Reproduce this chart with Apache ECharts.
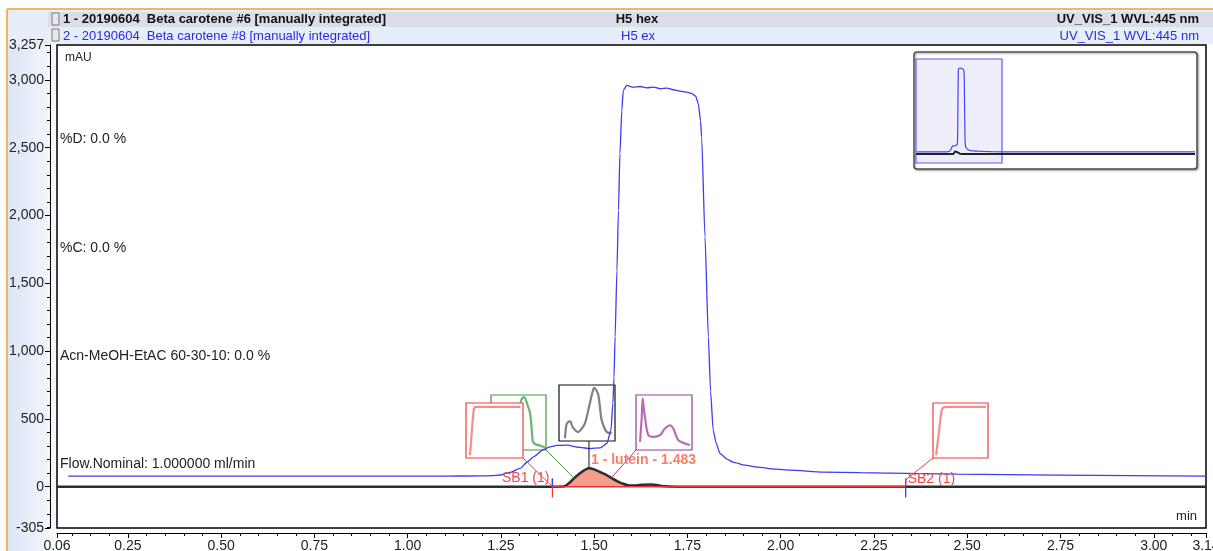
<!DOCTYPE html>
<html>
<head>
<meta charset="utf-8">
<title>Beta carotene chromatogram</title>
<script src="https://cdn.jsdelivr.net/npm/echarts@6.0.0/dist/echarts.min.js"></script>
<style>
html, body { margin: 0; padding: 0; background: #fff; }
#chart { width: 1213px; height: 551px; }
</style>
</head>
<body>
<div id="chart"></div>
<script>
// visible window of the chromatogram
var viewTime = [0.06, 3.14];      // min
var viewSignal = [-305, 3257];    // mAU
var overviewTime = [0.06, 10.05];
var timeLabels = [0.06, 0.25, 0.50, 0.75, 1.00, 1.25, 1.50, 1.75, 2.00, 2.25, 2.50, 2.75, 3.00, 3.14];
var signalLabels = [-305, 0, 500, 1000, 1500, 2000, 2500, 3000, 3257];

// 2 - Beta carotene #8 (H5 ex), blue
var blueTrace = [
    [0.09,77],[0.40,77],[0.80,77],[1.10,78],[1.20,79],[1.225,81],[1.248,86],[1.275,105],[1.301,134],
    [1.320,180],[1.337,220],[1.364,274],[1.382,293],[1.400,304],[1.427,306],[1.462,289],[1.489,281],
    [1.516,286],[1.534,318],[1.545,416],[1.550,613],[1.553,800],[1.556,1104],[1.561,1595],[1.565,2037],
    [1.569,2455],[1.574,2774],[1.578,2922],[1.587,2959],[1.605,2946],[1.623,2951],[1.641,2941],
    [1.659,2946],[1.677,2934],[1.695,2939],[1.712,2927],[1.730,2917],[1.748,2909],[1.762,2898],
    [1.772,2880],[1.779,2824],[1.785,2700],[1.788,2577],[1.797,1841],[1.806,1104],[1.812,700],
    [1.819,416],[1.827,320],[1.837,245],[1.856,203],[1.872,181],[1.904,158],[1.937,144],[1.985,129],
    [2.025,122],[2.114,107],[2.213,103],[2.293,99],[2.473,92],[2.741,85],[2.937,81],[3.14,78]
];
// 1 - Beta carotene #6 (H5 hex), black
var blackTrace = [
    [0.06,0],[1.40,0],[1.418,1],[1.432,25],[1.446,62],[1.460,95],[1.474,122],[1.486,135],[1.500,127],
    [1.516,108],[1.530,90],[1.546,64],[1.560,42],[1.573,26],[1.590,11],[1.610,9],[1.630,14],
    [1.653,16],[1.668,12],[1.680,5],[1.720,0],[3.14,0]
];
var overviewTail = [10.05, 77];

// integration
var sbTimes = [1.388, 2.335];
var peakTime = 1.486;
var peakHeight = 135;
var peakLabel = '1 - lutein - 1.483';
var spectrumTimes = [[1.446, 62], [1.546, 64]];   // green, purple

// UV spectra (nm, % of box)
var sb1Spectrum = [[228,5],[240,45],[256,90],[270,93],[300,93],[400,93],[500,93],[582,93]];
var greenSpectrum = [[210,12],[260,25],[320,35],[380,55],[410,80],[424,93],[440,96],[452,92],[468,80],
    [484,67],[496,38],[504,16],[520,11],[556,8],[592,5]];
var blackSpectrum = [[243,5],[252,28],[262,33],[279,35],[300,24],[338,16],[362,22],[386,32],[421,68],
    [440,88],[452,95],[466,91],[481,82],[495,55],[505,37],[541,16],[576,14]];
var purpleSpectrum = [[229,15],[241,60],[248,94],[256,75],[264,60],[288,27],[324,24],[371,27],[407,39],
    [443,45],[466,39],[502,18],[550,12],[586,9]];
var sb2Spectrum = [[222,5],[240,40],[262,85],[272,91],[300,93],[400,93],[500,93],[586,93]];

var FONT = '"Liberation Sans", Arial, sans-serif';
var chart = echarts.init(document.getElementById('chart'));

// minor ticks
var timeMinor = [];
for (var i = 2; i <= 62; i++) {
    var t = Math.round(i * 5) / 100;
    if (i % 5 !== 0 && t > viewTime[0]) timeMinor.push(t);
}
var signalMinor = [];
for (var v = -300; v <= 3200; v += 100) {
    if (v % 500 !== 0) signalMinor.push(v);
}

function thousands(v) {
    return String(v).replace(/\B(?=(\d{3})+(?!\d))/g, ',');
}

function box(left, top, width, height, color, extra) {
    var gr = { left: left, top: top, width: width, height: height, show: true, borderColor: color,
               borderWidth: 1.2, outerBoundsMode: 'none', containLabel: false };
    for (var k in extra || {}) gr[k] = extra[k];
    return gr;
}

var grids = [
    box(57, 45, 1149, 483, '#000', { borderWidth: 1.5, backgroundColor: 'transparent' }),
    box(491, 395, 55, 55, '#3c9a3c'),
    box(466, 403, 57, 55, '#f03a3a', { backgroundColor: '#fff', z: 5 }),
    box(559, 385, 56, 56, '#111'),
    box(636, 395, 56, 55, '#9a3a9a'),
    box(933, 403, 55, 55, '#f03a3a'),
    box(916, 59, 279, 104, '#000', { show: false })
];

var xAxes = [
    { type: 'value', gridIndex: 0, position: 'bottom', offset: 5, min: viewTime[0], max: viewTime[1],
      axisLine: { show: true, onZero: false, lineStyle: { color: '#000', width: 1 } },
      axisTick: { show: true, customValues: timeLabels, length: 5, lineStyle: { color: '#000' } },
      axisLabel: { show: true, customValues: timeLabels, margin: 6, fontFamily: FONT, fontSize: 14, color: '#222',
                   formatter: function (v) { return v.toFixed(2); } },
      splitLine: { show: false } },
    { type: 'value', gridIndex: 0, position: 'bottom', offset: 5, min: viewTime[0], max: viewTime[1],
      axisLine: { show: false, onZero: false },
      axisTick: { show: true, customValues: timeMinor, length: 3, lineStyle: { color: '#000' } },
      axisLabel: { show: false }, splitLine: { show: false } }
];
var yAxes = [
    { type: 'value', gridIndex: 0, position: 'left', offset: 7, min: viewSignal[0], max: viewSignal[1],
      axisLine: { show: true, onZero: false, lineStyle: { color: '#000', width: 1 } },
      axisTick: { show: true, customValues: signalLabels, length: 5, lineStyle: { color: '#000' } },
      axisLabel: { show: true, customValues: signalLabels, margin: 6, fontFamily: FONT, fontSize: 14, color: '#222',
                   formatter: thousands },
      splitLine: { show: false } },
    { type: 'value', gridIndex: 0, position: 'left', offset: 7, min: viewSignal[0], max: viewSignal[1],
      axisLine: { show: false, onZero: false },
      axisTick: { show: true, customValues: signalMinor, length: 3, lineStyle: { color: '#000' } },
      axisLabel: { show: false }, splitLine: { show: false } }
];
for (var g = 1; g <= 5; g++) {
    xAxes.push({ type: 'value', gridIndex: g, min: 200, max: 600, show: false });
    yAxes.push({ type: 'value', gridIndex: g, min: 0, max: 100, show: false });
}
xAxes.push({ type: 'value', gridIndex: 6, min: overviewTime[0], max: overviewTime[1], show: false });
yAxes.push({ type: 'value', gridIndex: 6, min: viewSignal[0], max: viewSignal[1], show: false });

var peakArea = [[sbTimes[0], 0]].concat(blackTrace.filter(function (p) {
    return p[0] > sbTimes[0] && p[0] < sbTimes[1];
})).concat([[sbTimes[1], 0]]);

function tick(t, lo, hi, color, z) {
    return { type: 'line', xAxisIndex: 0, yAxisIndex: 0, data: [[t, lo], [t, hi]], showSymbol: false,
             silent: true, z: z, lineStyle: { color: color, width: 1.3 } };
}
function spectrum(idx, data, color, z) {
    return { type: 'line', xAxisIndex: idx, yAxisIndex: idx, data: data, showSymbol: false, silent: true,
             smooth: 0.35, z: z || 2, lineStyle: { color: color, width: 2.2, opacity: 0.75 } };
}

var series = [
    { name: '2 - Beta carotene #8', type: 'line', xAxisIndex: 0, yAxisIndex: 0, data: blueTrace,
      showSymbol: false, smooth: 0.2, smoothMonotone: 'x', z: 3, lineStyle: { color: '#3c3cf2', width: 1.3 } },
    { name: 'lutein area', type: 'line', xAxisIndex: 0, yAxisIndex: 0, data: peakArea, showSymbol: false,
      smooth: 0.3, z: 2, lineStyle: { width: 0 }, areaStyle: { color: '#f59c8c', opacity: 1 } },
    { name: '1 - Beta carotene #6', type: 'line', xAxisIndex: 0, yAxisIndex: 0, data: blackTrace,
      showSymbol: false, smooth: 0.3, z: 3, lineStyle: { color: '#2e2e2e', width: 2.5 } },
    { name: 'baseline', type: 'line', xAxisIndex: 0, yAxisIndex: 0, data: [[sbTimes[0], 0], [sbTimes[1], 0]],
      showSymbol: false, silent: true, z: 4, lineStyle: { color: '#e53535', width: 1.5 } },
    tick(sbTimes[0], -80, 60, '#f03a3a', 5),
    tick(sbTimes[0], 0, 60, '#3c3cf2', 6),
    tick(sbTimes[1], -80, 60, '#3c3cf2', 5),
    tick(sbTimes[1], 10, 60, '#f03a3a', 6),
    spectrum(2, greenSpectrum, '#3c9a3c', 2),
    spectrum(3, sb1Spectrum, '#f06868', 6),
    spectrum(4, blackSpectrum, '#555', 2),
    spectrum(5, purpleSpectrum, '#9b3f9b', 2),
    spectrum(6, sb2Spectrum, '#f06868', 2),
    { type: 'line', xAxisIndex: 7, yAxisIndex: 7, data: blackTrace.concat([[overviewTail[0], 0]]),
      showSymbol: false, silent: true, z: 3, lineStyle: { color: '#222', width: 2 },
      markArea: { silent: true, z: 2, itemStyle: { color: '#eeeefb', borderColor: '#5a5af0', borderWidth: 1.2 },
                  data: [[{ xAxis: viewTime[0], yAxis: viewSignal[0] }, { xAxis: viewTime[1], yAxis: viewSignal[1] }]] } },
    { type: 'line', xAxisIndex: 7, yAxisIndex: 7, data: blueTrace.concat([overviewTail]),
      showSymbol: false, silent: true, z: 4, lineStyle: { color: '#4646f0', width: 1.2 } }
];

chart.setOption({
    animation: false,
    backgroundColor: '#fff',
    grid: grids,
    xAxis: xAxes,
    yAxis: yAxes,
    series: series
});

// annotations placed from the data through the axes
function px(t, v) { return chart.convertToPixel({ seriesIndex: 0 }, [t, v]); }
function txt(x, y, s, size, color, align, bold) {
    return { type: 'text', silent: true, z: 10,
             style: { x: x, y: y, text: s, fill: color, textAlign: align || 'left', textVerticalAlign: 'middle',
                      font: (bold ? 'bold ' : '') + size + 'px ' + FONT } };
}
function seg(a, b, color, w) {
    return { type: 'line', silent: true, z: 9, shape: { x1: a[0], y1: a[1], x2: b[0], y2: b[1] },
             style: { stroke: color, lineWidth: w || 1 } };
}
function corner(gi, right, bottom) {
    var gr = grids[gi];
    return [gr.left + (right ? gr.width : 0), gr.top + (bottom ? gr.height : 0)];
}

var sb1 = px(sbTimes[0], 0), sb2 = px(sbTimes[1], 50);
var apex = px(peakTime, peakHeight);
var greenPt = px(spectrumTimes[0][0], spectrumTimes[0][1]);
var purplePt = px(spectrumTimes[1][0], spectrumTimes[1][1]);

var elements = [
    { type: 'rect', silent: true, z: 0, shape: { x: 7, y: 9, width: 49, height: 542 },
      style: { fill: new echarts.graphic.LinearGradient(0, 0, 1, 0, [{ offset: 0, color: '#dae5f6' }, { offset: 1, color: '#f6f9fd' }]) } },
    { type: 'rect', silent: true, z: 0, shape: { x: 7, y: 9, width: 1206, height: 35 }, style: { fill: '#e7eef9' } },
    { type: 'rect', silent: true, z: 0, shape: { x: 48, y: 12, width: 1165, height: 15 }, style: { fill: '#dcdee7' } },
    seg([7, 9], [1213, 9], '#f0a030', 1.5),
    seg([7, 9], [7, 551], '#f0a030', 1.5),
    { type: 'rect', silent: true, z: 1, shape: { x: 52, y: 13, width: 7, height: 12 }, style: { fill: '#e8e8e8', stroke: '#7a7a7a', lineWidth: 1 } },
    { type: 'rect', silent: true, z: 1, shape: { x: 52, y: 29, width: 7, height: 12 }, style: { fill: '#e8e8e8', stroke: '#7a7a7a', lineWidth: 1 } },
    txt(63, 19.5, '1 - 20190604  Beta carotene #6 [manually integrated]', 13, '#111', 'left', true),
    txt(637, 19.5, 'H5 hex', 13, '#111', 'center', true),
    txt(1199, 19.5, 'UV_VIS_1 WVL:445 nm', 13, '#111', 'right', true),
    txt(63, 36, '2 - 20190604  Beta carotene #8 [manually integrated]', 13, '#2a2ae6', 'left', false),
    txt(638, 36, 'H5 ex', 13, '#2a2ae6', 'center', false),
    txt(1199, 36, 'UV_VIS_1 WVL:445 nm', 13, '#2a2ae6', 'right', false),
    txt(65, 58, 'mAU', 12, '#222'),
    txt(1197, 516, 'min', 13, '#222', 'right'),
    txt(60, 139, '%D: 0.0 %', 14, '#222'),
    txt(60, 248, '%C: 0.0 %', 14, '#222'),
    txt(60, 356, 'Acn-MeOH-EtAC 60-30-10: 0.0 %', 14, '#222'),
    txt(60, 464, 'Flow.Nominal: 1.000000 ml/min', 14, '#222'),
    { type: 'rect', silent: true, z: 0, shape: { x: 914, y: 52, width: 283, height: 117, r: 3 },
      style: { fill: '#fff', stroke: '#505050', lineWidth: 1.5, shadowBlur: 2, shadowOffsetX: 1, shadowOffsetY: 1, shadowColor: 'rgba(0,0,0,0.35)' } },
    seg(corner(2, true, true), sb1, '#f03a3a'),
    seg(corner(1, true, true), greenPt, '#3c9a3c'),
    seg([apex[0], corner(3, false, true)[1]], apex, '#111'),
    seg(corner(4, false, true), purplePt, '#9a3a9a'),
    seg(corner(5, false, true), sb2, '#f03a3a'),
    txt(sb1[0] - 3, sb1[1] - 8.5, 'SB1 (1)', 14, '#f04848', 'right'),
    txt(sb2[0] + 2, sb2[1] - 1, 'SB2 (1)', 14, '#f04848', 'left'),
    txt(apex[0] + 2, apex[1] - 8, peakLabel, 14, '#f6806a', 'left', true)
];

chart.setOption({ graphic: { elements: elements } });
</script>
</body>
</html>
